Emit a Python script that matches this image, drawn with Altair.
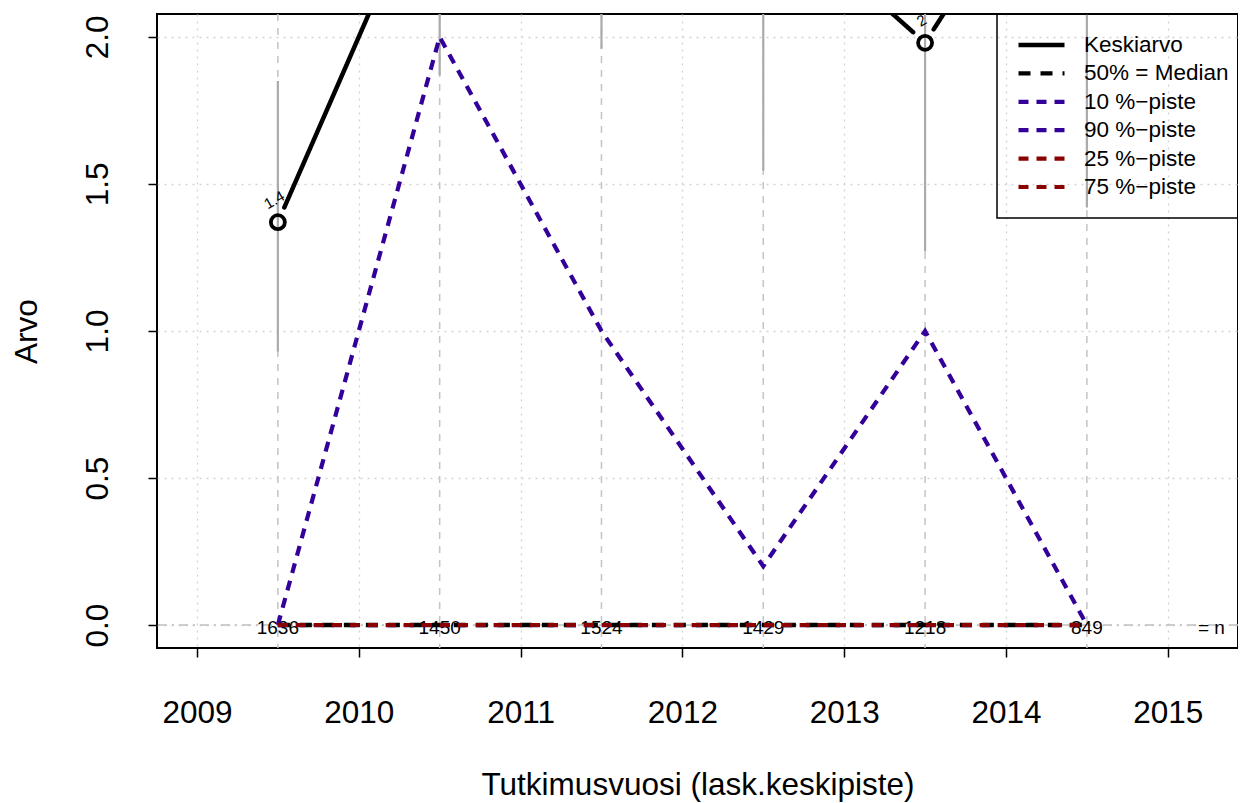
import math
import altair as alt
import pandas as pd

# ---------------- data ----------------
YEARS = [2009.5, 2010.5, 2011.5, 2012.5, 2013.5, 2014.5]
MEAN = [1.37, 2.63, 2.85, 2.47, 1.98, 2.84]
MEAN_LABELS = ["1.4", "2.6", "2.9", "2.5", "2", "2.8"]
CI_LOW = [0.93, 1.87, 1.96, 1.545, 1.27, 1.42]
CI_HIGH = [1.85, 3.39, 3.74, 3.40, 2.69, 4.26]
P10 = [0, 0, 0, 0, 0, 0]
P25 = [0, 0, 0, 0, 0, 0]
P50 = [0, 0, 0, 0, 0, 0]
P75 = [0, 0, 0, 0, 0, 0]
P90 = [0, 2.0, 1.0, 0.2, 1.0, 0]
N_OBS = [1636, 1450, 1524, 1429, 1218, 849]
N_TAG = ["= n"]
N_TAG_X = [2015.27]
BASELINE = [0]
SERIES = ["Keskiarvo", "50% = Median", "10 %−piste", "90 %−piste", "25 %−piste", "75 %−piste"]
X_TICKS = [2009, 2010, 2011, 2012, 2013, 2014, 2015]
Y_TICKS = [0, 0.5, 1.0, 1.5, 2.0]

# ---------------- layout / style ----------------
W, H = 1081, 634
X_DOM = [2008.753, 2015.434]
Y_DOM = [-0.078, 2.078]
FONT = "Liberation Sans"
BLUE = "#330099"
RED = "#8B0000"
COLORS = ["black", "black", BLUE, BLUE, RED, RED]
DASHES = [[1, 0], [12, 10], [10, 8], [10, 8], [10, 8], [10, 8]]
WIDTHS = [4.5, 4, 2.5, 2.5, 3, 3]
GAP = 16  # px gap around points (type="b")
AX_FS = 31.5

x_axis = alt.Axis(values=X_TICKS, format="d", title="Tutkimusvuosi (lask.keskipiste)",
                  grid=True, gridColor="#D3D3D3", gridDash=[2, 5], gridWidth=1.3,
                  domain=False, tickColor="black", tickSize=9, tickWidth=1.5,
                  labelFont=FONT, labelFontSize=AX_FS, labelColor="black",
                  labelBaseline="alphabetic", labelPadding=65, labelFlush=False,
                  labelOverlap=False, titleFont=FONT, titleFontSize=AX_FS,
                  titleFontWeight="normal", titleColor="black",
                  titleBaseline="alphabetic", titleAlign="center",
                  titleX=W / 2, titleY=146)
y_axis = alt.Axis(values=Y_TICKS, format=".1f", title="Arvo",
                  grid=True, gridColor="#D3D3D3", gridDash=[2, 5], gridWidth=1.3,
                  domain=False, tickColor="black", tickSize=9, tickWidth=1.5,
                  labelFont=FONT, labelFontSize=AX_FS, labelColor="black",
                  labelAngle=270, labelAlign="center", labelBaseline="alphabetic",
                  labelPadding=41, labelFlush=False, labelOverlap=False,
                  titleFont=FONT, titleFontSize=AX_FS, titleFontWeight="normal",
                  titleColor="black", titleAngle=270, titleAlign="center",
                  titleBaseline="alphabetic", titleX=-121, titleY=H / 2)

xs = alt.Scale(domain=X_DOM, nice=False, zero=False)
ys = alt.Scale(domain=Y_DOM, nice=False, zero=False)


def X(f="x"):
    return alt.X(f"{f}:Q", scale=xs, axis=x_axis)


def Y(f="y"):
    return alt.Y(f"{f}:Q", scale=ys, axis=y_axis)


LEG = alt.Legend(title=None, orient="none", legendX=840, legendY=0,
                 symbolType="stroke", symbolSize=2116, clipHeight=24,
                 rowPadding=4.4, padding=19, labelFont=FONT, labelFontSize=22.5,
                 labelColor="black", labelOffset=17, labelLimit=400,
                 strokeColor="black")

enc_style = dict(
    color=alt.Color("series:N", scale=alt.Scale(domain=SERIES, range=COLORS), legend=LEG),
    strokeDash=alt.StrokeDash("series:N", scale=alt.Scale(domain=SERIES, range=DASHES), legend=LEG),
    strokeWidth=alt.StrokeWidth("series:N", scale=alt.Scale(domain=SERIES, range=WIDTHS), legend=LEG),
)

# ---------------- frames ----------------
df_years = pd.DataFrame({"x": YEARS, "lo": CI_LOW, "hi": CI_HIGH, "mean": MEAN,
                         "lab": MEAN_LABELS, "n": [str(v) for v in N_OBS],
                         "zero": BASELINE * len(YEARS)})
df_base = pd.DataFrame({"y": BASELINE})
df_tag = pd.DataFrame({"x": N_TAG_X, "y": BASELINE, "t": N_TAG})

sx = W / (X_DOM[1] - X_DOM[0])
sy = H / (Y_DOM[1] - Y_DOM[0])
segs = []
for i in range(len(YEARS) - 1):
    x0, y0, x1, y1 = YEARS[i], MEAN[i], YEARS[i + 1], MEAN[i + 1]
    L = math.hypot((x1 - x0) * sx, (y1 - y0) * sy)
    f = GAP / L
    segs.append({"x": x0 + (x1 - x0) * f, "y": y0 + (y1 - y0) * f,
                 "x2": x1 - (x1 - x0) * f, "y2": y1 - (y1 - y0) * f,
                 "series": SERIES[0]})
df_segs = pd.DataFrame(segs)

pct = [(SERIES[1], P50), (SERIES[2], P10), (SERIES[3], P90), (SERIES[4], P25), (SERIES[5], P75)]

# ---------------- layers ----------------
vlines = alt.Chart(df_years).mark_rule(color="#C4C4C4", strokeDash=[7, 7], strokeWidth=1.5).encode(x=X())
base = alt.Chart(df_base).mark_rule(color="#BEBEBE", strokeDash=[9, 5, 2, 5], strokeWidth=1.5).encode(y=Y())
ci = alt.Chart(df_years).mark_rule(color="#ABABAB", strokeWidth=2.2, clip=True).encode(
    x=X(), y=Y("lo"), y2=alt.Y2("hi"))
ntext = alt.Chart(df_years).mark_text(font=FONT, fontSize=19, color="black", baseline="middle",
                                      align="center", dy=3).encode(x=X(), y=Y("zero"), text="n:N")
tag = alt.Chart(df_tag).mark_text(font=FONT, fontSize=19, color="black", baseline="middle",
                                  align="center", dy=3).encode(x=X(), y=Y(), text="t:N")

plines = []
for name, vals in pct:
    d = pd.DataFrame({"x": YEARS, "y": vals, "series": name})
    plines.append(alt.Chart(d).mark_line(strokeCap="butt").encode(x=X(), y=Y(), **enc_style))

mean_seg = alt.Chart(df_segs).mark_rule(clip=True, strokeCap="round").encode(
    x=X(), y=Y(), x2=alt.X2("x2"), y2=alt.Y2("y2"), **enc_style)
pts = alt.Chart(df_years).mark_point(shape="circle", filled=False, size=196, strokeWidth=3.8,
                                     color="black", opacity=1, clip=True).encode(x=X(), y=Y("mean"))
plabels = alt.Chart(df_years).transform_filter(
    alt.datum.mean <= Y_DOM[1]
).mark_text(font=FONT, fontSize=15, color="black", angle=330,
            align="center", baseline="middle", dx=8, dy=-21,
            clip=True).encode(x=X(), y=Y("mean"), text="lab:N")

chart = alt.layer(vlines, base, ci, ntext, tag, *plines, mean_seg, pts, plabels).properties(
    width=W, height=H,
    autosize=alt.AutoSizeParams(type="none"),
    padding={"left": 149, "top": 6, "right": 0, "bottom": 155},
).configure_view(stroke="black", strokeWidth=2).configure_legend(strokeWidth=1.5)

chart.save("out.html", embed_options={"renderer": "svg", "actions": False})
